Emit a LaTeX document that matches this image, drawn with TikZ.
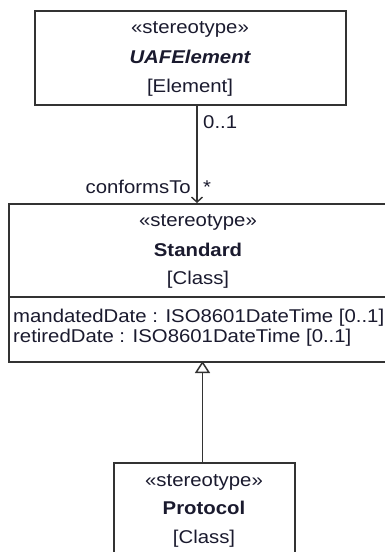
\documentclass[tikz,border=0pt]{standalone}
\usepackage{fontspec}
\setmainfont{Liberation Sans}[FakeStretch=1.1]
\usetikzlibrary{arrows.meta}
\definecolor{ink}{HTML}{1A1A2E}
\definecolor{edge}{HTML}{333333}
\tikzset{
  umlbox/.style={draw=edge, line width=1.6pt, rectangle, inner sep=0pt, anchor=north west},
  txt/.style={anchor=base, inner sep=0pt, text=ink, font=\fontsize{18.5}{20}\selectfont},
  ltxt/.style={anchor=base west, inner sep=0pt, text=ink, font=\fontsize{18.5}{20}\selectfont},
  conn/.style={draw=edge, line width=1.7pt},
}
\begin{document}
\begin{tikzpicture}[x=1pt,y=-1pt]
\useasboundingbox (0,0) rectangle (385,552);
\clip (0,0) rectangle (385,552);
% UAFElement
\node[umlbox, minimum width=311pt, minimum height=94pt] (uaf) at (34,10) {};
\node[txt] (uafs) at (190,33) {«stereotype»};
\node[txt, font=\fontsize{18.5}{20}\selectfont\bfseries\itshape] (uafn) at (190,63) {UAFElement};
\node[txt] (uafm) at (190,92) {[Element]};
% Standard
\node[umlbox, minimum width=380pt, minimum height=158pt] (std) at (8,203) {};
\draw[draw=edge, line width=1.5pt] (std.west |- 0,297) coordinate (sepl) -- (std.east |- 0,297) coordinate (sepr);
\node[txt] (stds) at (198,226) {«stereotype»};
\node[txt, font=\fontsize{18.5}{20}\selectfont\bfseries] (stdn) at (198,256) {Standard};
\node[txt] (stdm) at (198,284) {[Class]};
\node[ltxt] (a1) at (13,322.5) {mandatedDate : ISO8601DateTime [0..1]};
\node[ltxt] (a2) at (13,342.5) {retiredDate : ISO8601DateTime [0..1]};
% Protocol
\node[umlbox, minimum width=181pt, minimum height=100pt] (pro) at (113,462) {};
\node[txt] (pros) at (204,486) {«stereotype»};
\node[txt, font=\fontsize{18.5}{20}\selectfont\bfseries] (pron) at (204,514) {Protocol};
\node[txt] (prom) at (204,543) {[Class]};
% association
\coordinate (asrc) at (197,104);
\coordinate (adst) at (197,203);
\draw[conn, -{Straight Barb[length=5pt,width=11pt,line width=1.4pt]}] (asrc) -- (adst);
\node[ltxt] (m1) at (203,128) {0..1};
\node[anchor=base east, inner sep=0pt, text=ink, font=\fontsize{18.5}{20}\selectfont] (role) at (191,193) {conformsTo};
\node[ltxt] (m2) at (203,193) {*};
% generalization
\coordinate (gsrc) at (202.5,462);
\coordinate (gdst) at (202.5,361);
\draw[conn, -{Triangle[open, length=12pt, width=15pt, line width=1.5pt, fill=white]}] (gsrc) -- (gdst);
\end{tikzpicture}
\end{document}
